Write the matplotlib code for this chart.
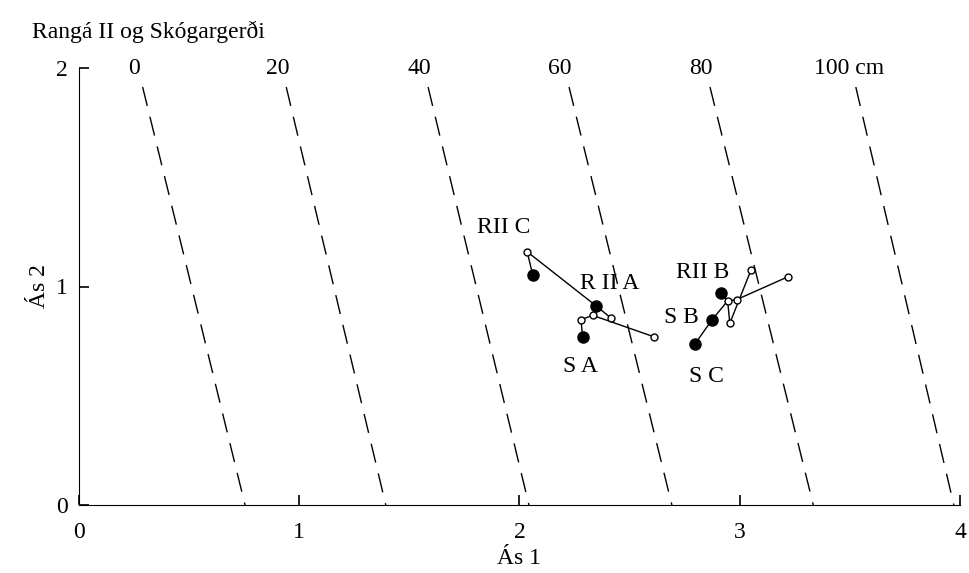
import matplotlib.pyplot as plt

plt.rcParams['font.family'] = ['Liberation Serif', 'DejaVu Serif']

# depth lines (cm), x where each line meets y=0 and y=1.913
depths = ['0', '20', '40', '60', '80', '100 cm']
depth_x_bottom = [0.754, 1.393, 2.043, 2.692, 3.334, 3.972]
depth_x_top = [0.289, 0.941, 1.585, 2.225, 2.865, 3.527]
depth_y_top = 1.913

# open circles
open_x = [2.035, 2.414, 2.332, 2.279, 2.610, 3.051, 3.220, 2.945, 2.986, 2.955]
open_y = [1.159, 0.857, 0.868, 0.848, 0.770, 1.075, 1.045, 0.934, 0.940, 0.832]
# filled circles
filled_x = [2.060, 2.347, 2.287, 2.915, 2.873, 2.798]
filled_y = [1.053, 0.912, 0.767, 0.970, 0.846, 0.739]

# connecting lines
path1_x = [2.060, 2.035, 2.347, 2.414]
path1_y = [1.053, 1.159, 0.912, 0.857]
path2_x = [2.347, 2.332, 2.610]
path2_y = [0.912, 0.868, 0.770]
path3_x = [2.332, 2.279, 2.287]
path3_y = [0.868, 0.848, 0.767]
path4_x = [2.798, 2.873, 2.945, 2.955, 3.051]
path4_y = [0.739, 0.846, 0.934, 0.832, 1.075]
path5_x = [2.915, 2.945, 2.986, 3.220]
path5_y = [0.970, 0.934, 0.940, 1.045]

labels = ['RII C', 'R II A', 'S A', 'RII B', 'S B', 'S C']
label_x = [1.930, 2.411, 2.275, 2.833, 2.733, 2.851]
label_y = [1.268, 1.016, 0.632, 1.066, 0.856, 0.586]

fig = plt.figure(figsize=(9.69, 5.73), dpi=100)
ax = fig.add_axes([0.0815, 0.1187, 0.9092, 0.7626])

# dashed depth lines
for xb, xt, lab in zip(depth_x_bottom, depth_x_top, depths):
    ax.plot([xt, xb], [depth_y_top, 0], color='black', lw=1,
            linestyle=(0, (14, 8)))
    slope = (xb - xt) / depth_y_top
    xl = xt - slope * (2.0 - depth_y_top)
    if lab.endswith('cm'):
        ax.annotate(lab, (xl, 2.0), xytext=(-27, 0), textcoords='offset points',
                    ha='left', va='center', fontsize=17)
    else:
        ax.text(xl - 0.02, 2.0, lab, ha='center', va='center', fontsize=17)

for px, py in [(path1_x, path1_y), (path2_x, path2_y), (path3_x, path3_y),
               (path4_x, path4_y), (path5_x, path5_y)]:
    ax.plot(px, py, color='black', lw=1, zorder=3)

ax.plot(filled_x, filled_y, 'o', color='black', ms=8, zorder=4)
ax.plot(open_x, open_y, 'o', mfc='white', mec='black', mew=1, ms=5, zorder=5)

for lab, lx, ly in zip(labels, label_x, label_y):
    ax.text(lx, ly, lab, ha='center', va='center', fontsize=17)

ax.set_xlim(0, 4)
ax.set_ylim(0, 2)
ax.set_xticks([0, 1, 2, 3, 4])
ax.set_yticks([0, 1, 2])
ax.spines['top'].set_visible(False)
ax.spines['right'].set_visible(False)
ax.tick_params(direction='in', length=7, width=1.2, labelsize=17)
ax.tick_params(axis='x', pad=12)
ax.tick_params(axis='y', pad=8)
ax.set_xlabel('Ás 1', fontsize=17, labelpad=4)
ax.set_ylabel('Ás 2', fontsize=17, labelpad=4)
fig.text(0.033, 0.945, 'Rangá II og Skógargerði', fontsize=17, ha='left', va='center')

plt.savefig('out.png', dpi=100)
